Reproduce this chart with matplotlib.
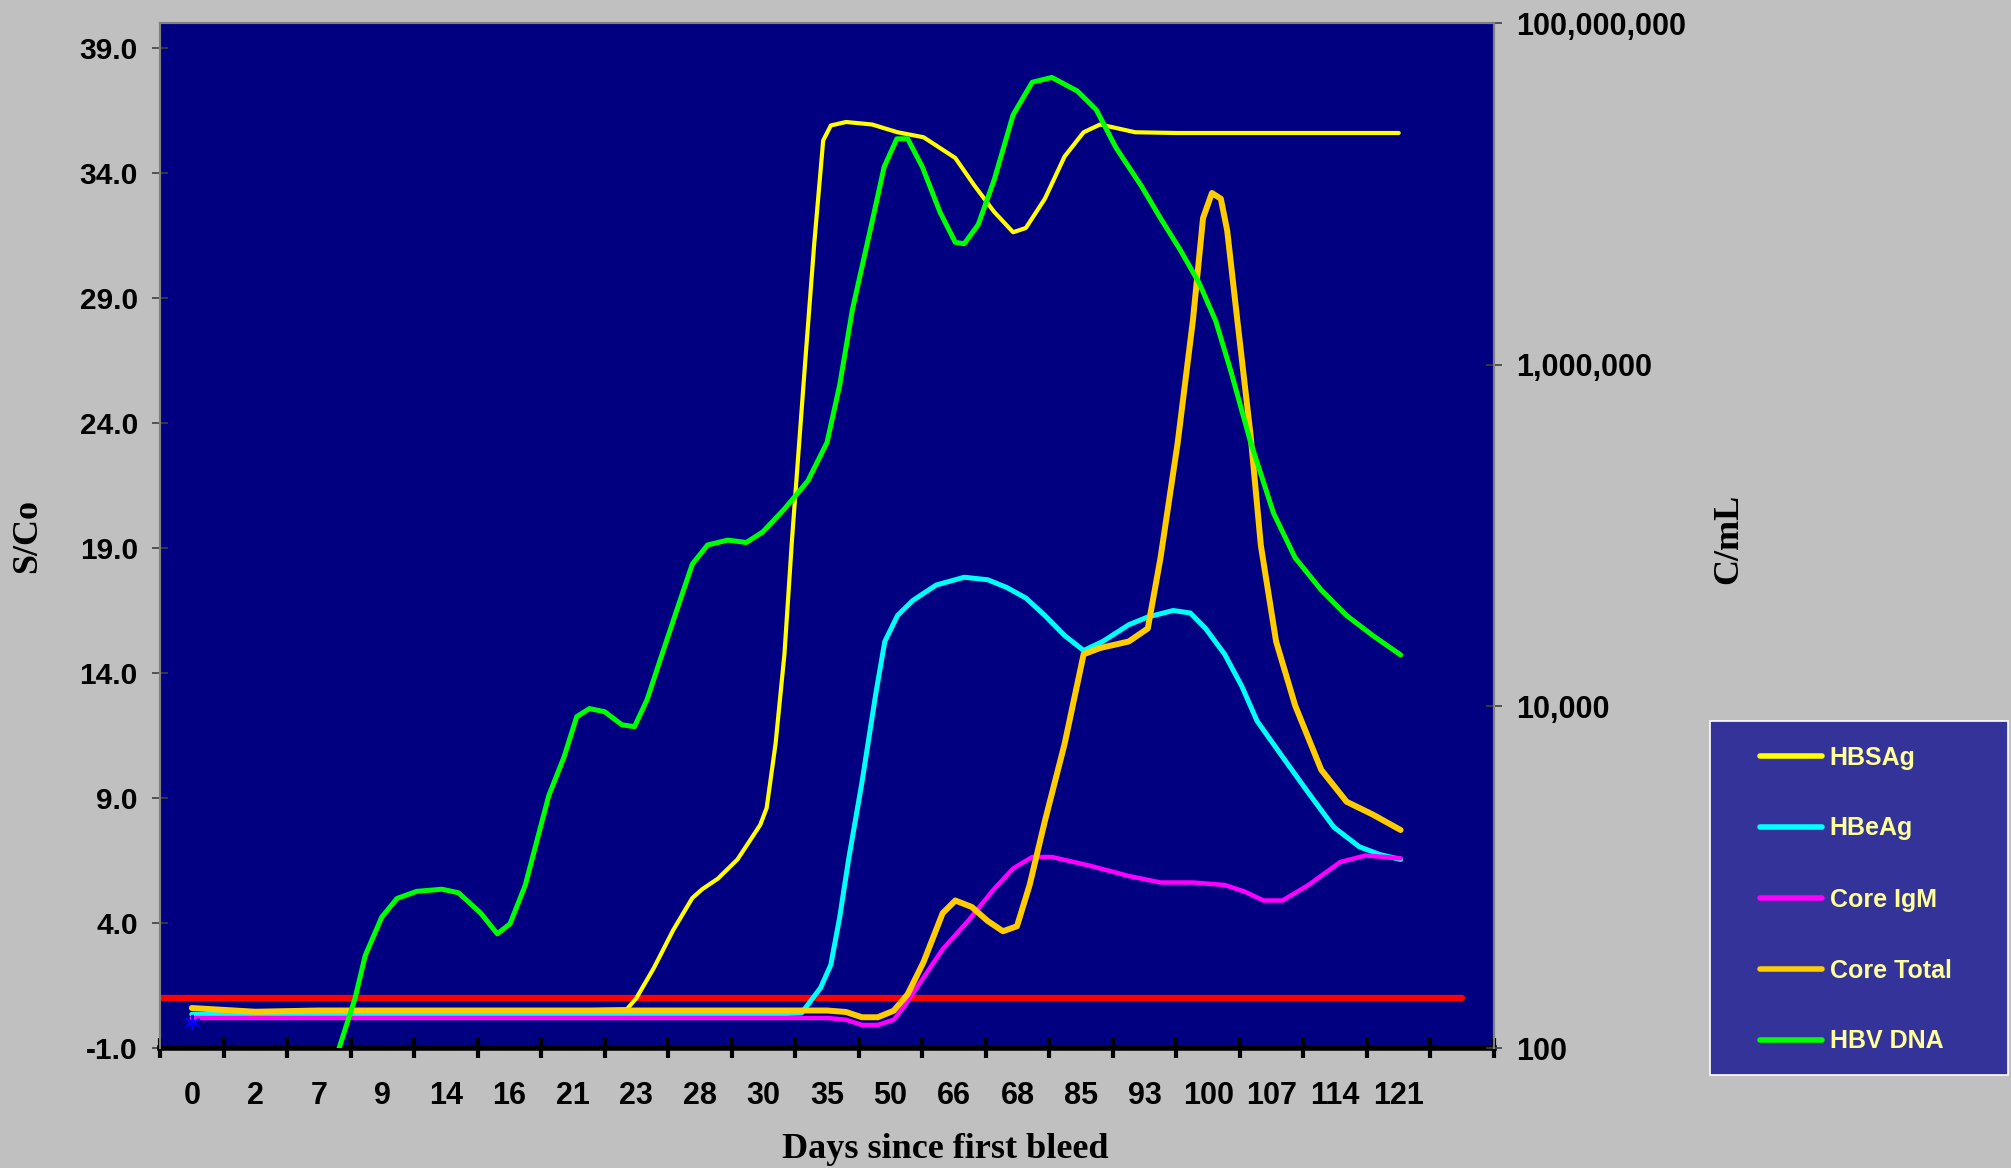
import matplotlib.pyplot as plt
import numpy as np
from matplotlib.ticker import FuncFormatter
from matplotlib.patches import Rectangle
from matplotlib.lines import Line2D

# category labels (days since first bleed), one empty slot at the end
days = ['0', '2', '7', '9', '14', '16', '21', '23', '28', '30',
        '35', '50', '66', '68', '85', '93', '100', '107', '114', '121']

# positions are in category units (0 = first day label)
hbsag_x = [0, 1, 2, 3, 4, 5, 6, 6.85, 7.0, 7.27, 7.58, 7.88, 8.04, 8.28, 8.59, 8.79,
           8.95, 9.05, 9.19, 9.33, 9.45, 9.54, 9.66, 9.8, 9.94, 10.06, 10.3, 10.71,
           11.11, 11.52, 12.02, 12.32, 12.63, 12.93, 13.13, 13.43, 13.74, 14.04, 14.3,
           14.55, 14.85, 15.5, 16, 17, 18, 19]
hbsag = [0.6, 0.4, 0.5, 0.5, 0.5, 0.5, 0.5, 0.55, 1.0, 2.18, 3.72, 5.0, 5.36, 5.77, 6.54, 7.31,
         7.93, 8.6, 11.16, 14.75, 19.37, 22.45, 26.55, 31.2, 35.3, 35.9, 36.04, 35.94,
         35.63, 35.43, 34.6, 33.5, 32.45, 31.63, 31.8, 32.97, 34.66, 35.63, 35.94,
         35.8, 35.63, 35.6, 35.6, 35.6, 35.6, 35.6]

hbeag_x = [0, 2, 4, 6, 8, 9, 9.6, 9.9, 10.06, 10.2, 10.34, 10.55, 10.77, 10.91, 11.11,
           11.35, 11.72, 12.16, 12.53, 12.83, 13.13, 13.43, 13.74, 14.04, 14.34, 14.75,
           15.05, 15.45, 15.72, 15.96, 16.26, 16.53, 16.77, 17.17, 17.58, 17.98, 18.38,
           18.69, 19.03]
hbeag = [0.35, 0.35, 0.35, 0.35, 0.35, 0.35, 0.4, 1.41, 2.33, 4.23, 6.54, 9.62, 13.2, 15.26, 16.3,
         16.9, 17.52, 17.83, 17.73, 17.42, 17.0, 16.3, 15.5, 14.9, 15.26, 15.93,
         16.24, 16.5, 16.4, 15.78, 14.75, 13.47, 12.08, 10.65, 9.2, 7.83, 7.05,
         6.75, 6.54]

igm_x = [0, 2, 4, 6, 8, 10, 10.3, 10.55, 10.8, 11.05, 11.21, 11.52, 11.82, 12.22, 12.63,
         12.93, 13.23, 13.54, 14.14, 14.75, 15.25, 15.76, 16.26, 16.57, 16.87, 17.17,
         17.58, 18.08, 18.48, 19.03]
igm = [0.2, 0.2, 0.2, 0.2, 0.2, 0.2, 0.13, -0.08, -0.08, 0.13, 0.64, 1.82, 2.95, 4.08, 5.36,
       6.18, 6.64, 6.64, 6.29, 5.88, 5.62, 5.62, 5.52, 5.26, 4.9, 4.9,
       5.52, 6.44, 6.7, 6.59]

core_x = [0, 1, 2, 4, 6, 8, 10, 10.3, 10.55, 10.8, 11.05, 11.27, 11.52, 11.82, 12.02, 12.28,
          12.53, 12.77, 12.99, 13.19, 13.43, 13.74, 14.04, 14.3, 14.75, 15.05, 15.25,
          15.52, 15.76, 15.92, 16.06, 16.2, 16.3, 16.46, 16.67, 16.83, 17.07, 17.37,
          17.78, 18.18, 18.59, 19.03]
core_total = [0.6, 0.45, 0.5, 0.5, 0.5, 0.5, 0.5, 0.44, 0.23, 0.23, 0.49, 1.15, 2.44, 4.39, 4.9, 4.64,
              4.08, 3.67, 3.87, 5.52, 8.08, 11.16, 14.75, 15.0, 15.26, 15.78, 18.6,
              23.2, 28.1, 32.2, 33.2, 32.97, 31.7, 28.1, 23.47, 19.1, 15.26, 12.7,
              10.13, 8.85, 8.34, 7.72]

# HBV DNA on the right (log) axis, C/mL
dna_x = [2.2, 2.32, 2.57, 2.73, 2.99, 3.23, 3.54, 3.94, 4.2, 4.55, 4.81, 5.01, 5.25, 5.62,
         5.86, 6.06, 6.26, 6.5, 6.77, 6.97, 7.17, 7.37, 7.64, 7.88, 8.12, 8.44, 8.73,
         8.99, 9.33, 9.7, 10.0, 10.2, 10.4, 10.7, 10.9, 11.1, 11.27, 11.5, 11.78,
         12.02, 12.16, 12.38, 12.63, 12.93, 13.23, 13.54, 13.94, 14.24, 14.55, 14.95,
         15.25, 15.56, 15.86, 16.12, 16.36, 16.67, 17.03, 17.37, 17.78, 18.18, 18.59,
         19.03]
hbv_dna = [70, 100, 195, 347, 583, 750, 826, 850, 810, 615, 466, 533, 897, 3000,
           5050, 8700, 9700, 9300, 7800, 7600, 11000, 18500, 37000, 68000, 88000, 94000, 91000,
           105000, 143000, 209000, 350000, 760000, 2.1e6, 6.6e6, 1.44e7, 2.1e7, 2.1e7, 1.44e7, 7.8e6,
           5.2e6, 5.1e6, 6.6e6, 1.2e7, 2.9e7, 4.5e7, 4.8e7, 4.0e7, 3.1e7, 1.86e7, 1.11e7,
           7.2e6, 4.7e6, 3.0e6, 1.8e6, 9.1e5, 3.5e5, 1.35e5, 74000, 48000, 34000, 26000,
           20000]

cutoff_x = [-0.5, 20.0]
cutoff = [1.0, 1.0]

navy = '#000080'
grey = '#C0C0C0'

fig = plt.figure(figsize=(20.11, 11.68), dpi=100, facecolor=grey)
ax1 = fig.add_axes([160 / 2011, 1 - 1048 / 1168, 1334 / 2011, 1025 / 1168])
ax1.set_facecolor(navy)

ax1.plot(cutoff_x, cutoff, color='#FF0000', lw=4.5, solid_capstyle='round', zorder=2)
ax1.plot(hbsag_x, hbsag, color='#FFFF00', lw=3, solid_capstyle='round', zorder=3)
ax1.plot(hbeag_x, hbeag, color='#00FFFF', lw=3.6, solid_capstyle='round', zorder=3)
ax1.plot(igm_x, igm, color='#FF00FF', lw=3.2, solid_capstyle='round', zorder=3)
ax1.plot(core_x, core_total, color='#FFCC00', lw=4.3, solid_capstyle='round', zorder=4)
ax1.plot([0], [0.03], marker=(6, 2, 0), color='#0000FF', ms=11, mew=1.5, zorder=5)

ax1.set_xlim(-0.5, 20.5)
ax1.set_ylim(-1, 40)
ax1.set_yticks(np.arange(-1, 40, 5))
ax1.yaxis.set_major_formatter(FuncFormatter(lambda v, p: f'{v:.1f}'))

ax1.set_xticks(np.arange(-0.5, 20.6, 1))
ax1.set_xticklabels([])
ax1.set_xticks(range(len(days)), minor=True)
ax1.set_xticklabels(days, minor=True)
ax1.tick_params(axis='x', which='major', direction='inout', length=15, width=3, color='black')
ax1.tick_params(axis='x', which='minor', length=0, pad=24, labelsize=22)
ax1.tick_params(axis='y', direction='inout', length=12, width=1.2, color='#404040',
                labelsize=21.5, pad=10)
for lab in ax1.get_xticklabels(minor=True) + ax1.get_yticklabels():
    lab.set_fontweight('bold')
    lab.set_family('Liberation Sans')

ax1.spines['bottom'].set_linewidth(4)
ax1.spines['bottom'].set_color('black')
for s in ['left', 'top', 'right']:
    ax1.spines[s].set_color('#808080')
    ax1.spines[s].set_linewidth(1.5)

ax2 = ax1.twinx()
ax2.plot(dna_x, hbv_dna, color='#00FF00', lw=3.6, solid_capstyle='round', zorder=3)
ax2.set_yscale('log')
ax2.set_ylim(100, 1e8)
ax2.set_yticks([1e2, 1e4, 1e6, 1e8])
ax2.yaxis.set_major_formatter(FuncFormatter(lambda v, p: f'{int(round(v)):,}'))
ax2.yaxis.set_minor_locator(plt.NullLocator())
ax2.tick_params(axis='y', direction='inout', length=12, width=1.2, color='#404040',
                labelsize=22, pad=10)
for lab in ax2.get_yticklabels():
    lab.set_fontweight('bold')
    lab.set_family('Liberation Sans')
for s in ['left', 'top', 'right']:
    ax2.spines[s].set_color('#808080')
    ax2.spines[s].set_linewidth(1.5)
ax2.spines['bottom'].set_visible(False)

# axis titles
fig.text(28 / 2011, 1 - 536 / 1168, 'S/Co', rotation=90, ha='center', va='center',
         fontsize=26, fontweight='bold', family='Liberation Serif')
fig.text(1729 / 2011, 1 - 539 / 1168, 'C/mL', rotation=90, ha='center', va='center',
         fontsize=26, fontweight='bold', family='Liberation Serif')
fig.text(945 / 2011, 1 - 1149 / 1168, 'Days since first bleed', ha='center', va='center',
         fontsize=26, fontweight='bold', family='Liberation Serif')

# legend in its own box
fig.patches.append(Rectangle((1710 / 2011, 1 - 1075 / 1168), 298 / 2011, 354 / 1168,
                             transform=fig.transFigure, facecolor='#333399',
                             edgecolor='white', lw=1.2))
names = ['HBSAg', 'HBeAg', 'Core IgM', 'Core Total', 'HBV DNA']
colors = ['#FFFF00', '#00FFFF', '#FF00FF', '#FFCC00', '#00FF00']
handles = [Line2D([], [], color=c, lw=4, solid_capstyle='round') for c in colors]
leg = fig.legend(handles, names, loc='upper left', bbox_to_anchor=(1737 / 2011, 1 - 723 / 1168),
                 frameon=False, handlelength=2.5, handletextpad=0.3, labelspacing=1.88,
                 prop={'family': 'Liberation Sans', 'weight': 'bold', 'size': 18})
for t in leg.get_texts():
    t.set_color('#FFFF99')

fig.savefig('out.png', dpi=100, facecolor=grey)
